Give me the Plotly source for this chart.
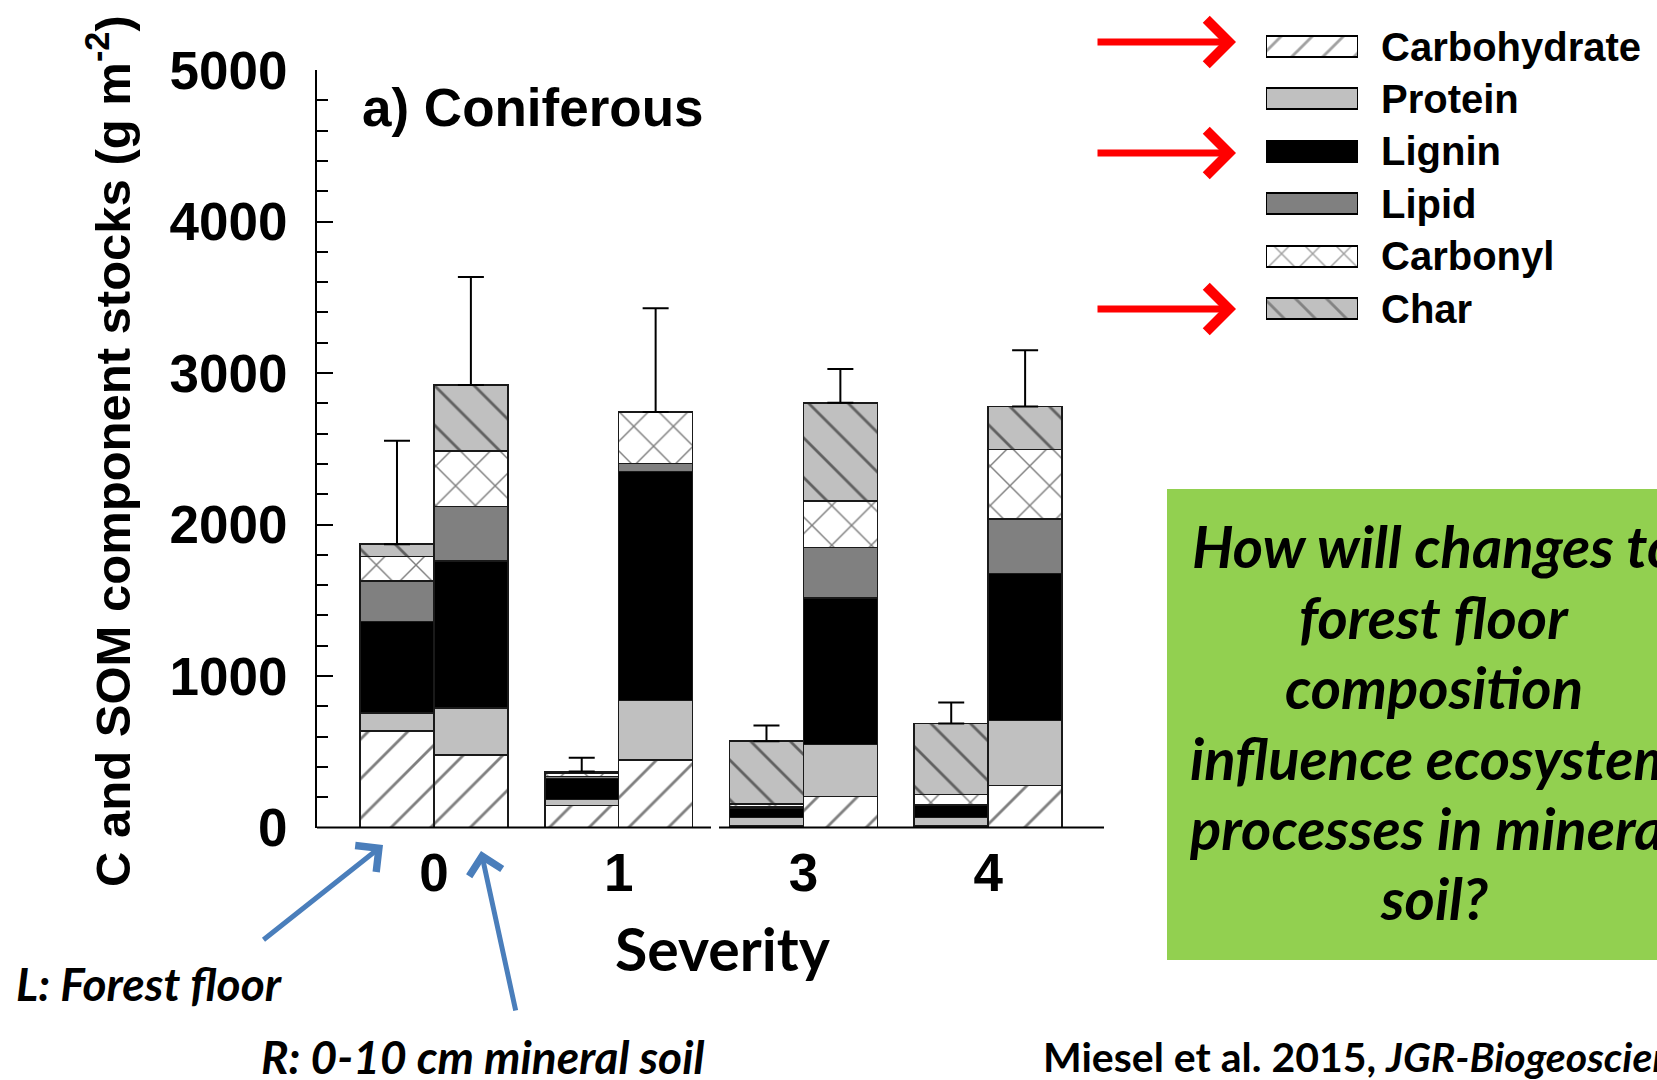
import plotly.graph_objects as go

W, H = 1657, 1080

# ---------------- data ----------------
severity = ["0", "1", "3", "4"]
components = ["Carbohydrate", "Protein", "Lignin", "Lipid", "Carbonyl", "Char"]
# L: forest floor, R: 0-10 cm mineral soil (g m-2), one value per severity class
carbohydrate_L = [638, 144, 10, 10]
carbohydrate_R = [477, 447, 205, 277]
protein_L = [118, 40, 55, 55]
protein_R = [311, 390, 344, 428]
lignin_L = [605, 140, 63, 79]
lignin_R = [970, 1512, 967, 972]
lipid_L = [265, 12, 8, 8]
lipid_R = [360, 53, 332, 361]
carbonyl_L = [164, 22, 20, 65]
carbonyl_R = [367, 341, 306, 457]
char_L = [80, 12, 414, 469]
char_R = [436, 0, 649, 284]
error_L = [683, 91, 104, 139]
error_R = [713, 685, 224, 371]

values = {
    "Carbohydrate": (carbohydrate_L, carbohydrate_R),
    "Protein": (protein_L, protein_R),
    "Lignin": (lignin_L, lignin_R),
    "Lipid": (lipid_L, lipid_R),
    "Carbonyl": (carbonyl_L, carbonyl_R),
    "Char": (char_L, char_R),
}

styles = {
    "Carbohydrate": dict(color="white", shape="/"),
    "Protein": dict(color="#c0c0c0", shape=""),
    "Lignin": dict(color="black", shape=""),
    "Lipid": dict(color="#808080", shape=""),
    "Carbonyl": dict(color="white", shape="x"),
    "Char": dict(color="#c0c0c0", shape="\\"),
}

question_lines = ["How will changes to", "forest floor", "composition",
                  "influence ecosystem", "processes in mineral", "soil?"]


def px(x):
    return x / W


def py(y):
    return 1 - y / H


SANS = "Liberation Sans, Arial, sans-serif"
CAL = "Lato, Open Sans, sans-serif"

pos_L = [i - 0.2 for i in range(len(severity))]
pos_R = [i + 0.2 for i in range(len(severity))]
xpos = pos_L + pos_R

fig = go.Figure()

for comp in components:
    L, R = values[comp]
    st = styles[comp]
    fig.add_trace(go.Bar(
        x=xpos, y=list(L) + list(R), width=0.4, name=comp,
        marker=dict(color=st["color"], line=dict(color="#1a1a1a", width=1.6),
                    pattern=dict(shape=st["shape"], fgcolor="black", bgcolor=st["color"],
                                 size=28, solidity=0.1, fillmode="overlay")),
        hoverinfo="skip",
    ))

totals = [sum(values[c][0][i] for c in components) for i in range(len(severity))] + \
         [sum(values[c][1][i] for c in components) for i in range(len(severity))]
fig.add_trace(go.Scatter(
    x=xpos, y=totals, mode="markers", marker=dict(size=1, opacity=0),
    error_y=dict(type="data", symmetric=False, array=error_L + error_R,
                 arrayminus=[0] * 8, color="black", thickness=2, width=13),
    hoverinfo="skip",
))

# legend drawn as swatches on a small side axis
fig.add_trace(go.Bar(
    x=[1] * len(components), y=components, orientation="h", width=0.4,
    xaxis="x2", yaxis="y2",
    marker=dict(color=[styles[c]["color"] for c in components],
                line=dict(color="black", width=2),
                pattern=dict(shape=[styles[c]["shape"] for c in components],
                             fgcolor="black",
                             bgcolor=[styles[c]["color"] for c in components],
                             size=22, solidity=0.13, fillmode="overlay")),
    hoverinfo="skip",
))

x0, x1 = 317, 1104
y0, y1 = 827.5, 70
fig.update_layout(
    width=W, height=H, margin=dict(l=0, r=0, t=0, b=0),
    paper_bgcolor="white", plot_bgcolor="white",
    barmode="stack", showlegend=False,
    xaxis=dict(domain=[px(x0), px(x1)], range=[-0.633, 3.627],
               tickvals=list(range(len(severity))), ticktext=severity,
               showline=False, ticks="", showgrid=False, zeroline=False,
               tickfont=dict(family=SANS, size=53, color="black", weight="bold"),
               ticklabelstandoff=9, automargin=False),
    yaxis=dict(domain=[py(y0), py(y1)], range=[0, 5000],
               tickvals=[0, 1000, 2000, 3000, 4000, 5000],
               showline=True, linecolor="black", linewidth=2,
               ticks="inside", ticklen=16, tickwidth=2, tickcolor="black",
               minor=dict(dtick=200, ticks="inside", ticklen=11, tickwidth=1.5, tickcolor="black"),
               showgrid=False, zeroline=False,
               tickfont=dict(family=SANS, size=53, color="black", weight="bold"),
               ticklabelstandoff=17, automargin=False),
    xaxis2=dict(domain=[px(1266), px(1358)], range=[0, 1], visible=False, anchor="y2"),
    yaxis2=dict(domain=[py(334.8), py(20.3)], anchor="x2", side="right",
                type="category", categoryarray=components, range=[5.5, -0.5],
                showline=False, ticks="", showgrid=False, zeroline=False,
                tickfont=dict(family=SANS, size=40, color="black", weight="bold"),
                ticklabelstandoff=22, automargin=False),
)

# x axis baseline with a small break between severity 1 and 3
for a, b in [(x0, 711), (719, x1)]:
    fig.add_shape(type="line", xref="paper", yref="paper",
                  x0=px(a), x1=px(b), y0=py(y0), y1=py(y0),
                  line=dict(color="black", width=2))

# green question box
fig.add_shape(type="rect", xref="paper", yref="paper",
              x0=px(1167), x1=px(1720), y0=py(960), y1=py(489),
              fillcolor="#92D050", line=dict(width=0), layer="below")


def txt(text, x, y, size, family, xanchor="center", angle=0, weight="normal"):
    return dict(text=text, x=px(x), y=py(y), xref="paper", yref="paper",
                xanchor=xanchor, yanchor="middle", showarrow=False, textangle=angle,
                font=dict(family=family, size=size, color="black", weight=weight))


ann = []
ann.append(txt("C and SOM component stocks (g m<sup>-2</sup>)", 109, 451, 49, SANS,
               angle=-90, weight="bold"))
ann.append(txt("a) Coniferous", 360, 107, 53, SANS, xanchor="left", weight="bold"))
ann.append(txt("Severity", 723, 948, 59, CAL, weight="bold"))
ann.append(txt("<i>L: Forest floor</i>", 14, 983, 46, CAL, xanchor="left", weight="bold"))
ann.append(txt("<i>R: 0-10 cm mineral soil</i>", 259, 1056, 46, CAL, xanchor="left",
               weight="bold"))
ann.append(txt("Miesel et al. 2015, <i>JGR-Biogeosciences</i>", 1041, 1056, 41, CAL,
               xanchor="left", weight="bold"))
for line, yy in zip(question_lines, [545, 616, 686, 757, 827, 897]):
    ann.append(txt("<i>" + line + "</i>", 1434, yy, 58, CAL, weight="bold"))

# red arrows pointing to legend entries
for yy in [42, 153, 309]:
    ann.append(dict(text="", x=px(1236), y=py(yy), xref="paper", yref="paper",
                    ax=-140, ay=0, showarrow=True, arrowhead=4, arrowsize=1.25,
                    arrowwidth=7, arrowcolor="#ff0000", standoff=0))
# blue arrows pointing to the L and R bars
ann.append(dict(text="", x=px(383), y=py(845), xref="paper", yref="paper",
                ax=262 - 383, ay=941 - 845, showarrow=True, arrowhead=4, arrowsize=1.3,
                arrowwidth=5, arrowcolor="#4a7ebb", standoff=0))
ann.append(dict(text="", x=px(481), y=py(851), xref="paper", yref="paper",
                ax=516 - 481, ay=1012 - 851, showarrow=True, arrowhead=4, arrowsize=1.3,
                arrowwidth=5, arrowcolor="#4a7ebb", standoff=0))

fig.update_layout(annotations=ann)
fig.write_html("out.html")
